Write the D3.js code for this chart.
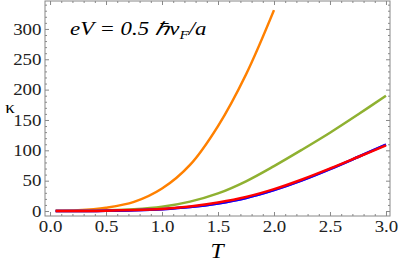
<!DOCTYPE html>
<html>
<head>
<meta charset="utf-8">
<script src="https://cdn.jsdelivr.net/npm/d3@7"></script>
<style>
  body { margin: 0; background: #fff; }
  svg { display: block; }
  .axis path { display: none; }
  .axis line { stroke: #888; }
</style>
</head>
<body>
<svg width="399" height="264"></svg>
<script>
// data
const temps = [0.05, 0.25, 0.5, 0.75, 1.0, 1.25, 1.5, 1.75, 2.0, 2.25, 2.5, 2.75, 3.0];
const orange = [0.3, 1.2, 5.5, 15, 37, 76, 140, 225, 331];
const green  = [0, 0.2, 1, 2.8, 7, 15.5, 29, 49, 74, 101, 129, 159, 190];
const purple = [0, 0, 0.3, 1.2, 3, 6.5, 12.5, 21.5, 34.5, 50.5, 69, 89, 109.5];
const blue   = [0, 0, 0.3, 1.2, 3, 6.5, 12.5, 21.5, 34.5, 50.5, 69, 89, 109.5];
const red    = [0, 0, 0.4, 1.5, 3.5, 7.5, 14, 23, 36, 52, 70, 89, 108];
const xTicks = [0, 0.5, 1, 1.5, 2, 2.5, 3];
const yTicks = [0, 50, 100, 150, 200, 250, 300];

const svg = d3.select('svg');
const margin = { top: 1, right: 9, bottom: 48, left: 45 };
const width = 399 - margin.left - margin.right;
const height = 264 - margin.top - margin.bottom;

const x = d3.scaleLinear().domain([-0.045, 3.036]).range([0, width]);
const y = d3.scaleLinear().domain([-8.2, 346]).range([height, 0]);

const g = svg.append('g').attr('transform', `translate(${margin.left},${margin.top})`);

const xMinor = d3.range(0, 3.01, 0.1).filter(v => Math.abs(v * 2 - Math.round(v * 2)) > 1e-6);
const yMinor = d3.range(0, 341, 10).filter(v => v % 50 !== 0);

const serif = '"Liberation Serif", "Times New Roman", serif';
const stretch = 1.18; // the reference text is a bit wider than Times

// bottom / left with labels
g.append('g').attr('class', 'axis').attr('transform', `translate(0,${height})`)
  .call(d3.axisBottom(x).tickValues(xTicks).tickSize(-4).tickPadding(5).tickFormat(d3.format('.1f')));
g.append('g').attr('class', 'axis').attr('transform', `translate(0,${height})`)
  .call(d3.axisBottom(x).tickValues(xMinor).tickSize(-2).tickFormat(''));
g.append('g').attr('class', 'axis')
  .call(d3.axisLeft(y).tickValues(yTicks).tickSize(-4).tickPadding(3));
g.append('g').attr('class', 'axis')
  .call(d3.axisLeft(y).tickValues(yMinor).tickSize(-2).tickFormat(''));
// mirrored top / right
g.append('g').attr('class', 'axis')
  .call(d3.axisTop(x).tickValues(xTicks).tickSize(-4).tickFormat(''));
g.append('g').attr('class', 'axis')
  .call(d3.axisTop(x).tickValues(xMinor).tickSize(-2).tickFormat(''));
g.append('g').attr('class', 'axis').attr('transform', `translate(${width},0)`)
  .call(d3.axisRight(y).tickValues(yTicks).tickSize(-4).tickFormat(''));
g.append('g').attr('class', 'axis').attr('transform', `translate(${width},0)`)
  .call(d3.axisRight(y).tickValues(yMinor).tickSize(-2).tickFormat(''));

g.selectAll('.axis text')
  .style('font-family', serif)
  .style('font-size', '16px')
  .style('fill', '#222')
  .attr('transform', `scale(${stretch},1)`);

g.append('rect')
  .attr('x', 0).attr('y', 0).attr('width', width).attr('height', height)
  .attr('fill', 'none').attr('stroke', '#888').attr('stroke-width', 1);

const line = d3.line()
  .x(d => x(d[0]))
  .y(d => y(d[1]))
  .curve(d3.curveCatmullRom.alpha(0.5));

const series = [
  { vals: orange, color: '#ff8000' },
  { vals: green, color: '#8fb131' },
  { vals: purple, color: '#8a2be2' },
  { vals: blue, color: '#0000ff' },
  { vals: red, color: '#ff0000' }
];

series.forEach(s => {
  g.append('path')
    .datum(s.vals.map((v, i) => [temps[i], v]))
    .attr('fill', 'none')
    .attr('stroke', s.color)
    .attr('stroke-width', 2.5)
    .attr('d', line);
});

// axis labels
svg.append('text')
  .attr('transform', `translate(217,258) scale(${stretch},1)`)
  .attr('text-anchor', 'middle')
  .style('font-family', serif)
  .style('font-style', 'italic')
  .style('font-size', '20px')
  .text('T');

svg.append('text')
  .attr('transform', `translate(10,113) scale(${stretch},1)`)
  .attr('text-anchor', 'middle')
  .style('font-family', serif)
  .style('font-size', '16px')
  .text('κ');

// annotation
const ann = svg.append('text')
  .attr('transform', 'translate(70,35) scale(1.27,1)')
  .style('font-family', serif)
  .style('font-style', 'italic')
  .style('font-size', '18px');
ann.append('tspan').text('eV = 0.5 ℏv');
ann.append('tspan').attr('dy', 4).style('font-size', '12px').text('F');
ann.append('tspan').attr('dy', -4).text('/a');
</script>
</body>
</html>
